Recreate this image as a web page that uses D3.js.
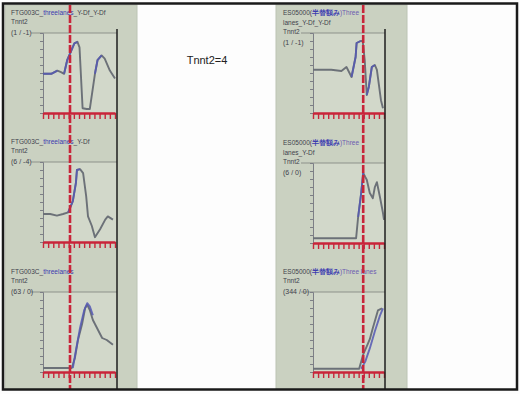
<!DOCTYPE html>
<html>
<head>
<meta charset="utf-8">
<script src="https://cdn.jsdelivr.net/npm/d3@7"></script>
<style>
  html, body { margin: 0; padding: 0; background: #ffffff; }
  svg { display: block; }
</style>
</head>
<body>
<script>
// ---- data: expression traces (time 0..14, relative level 0..100) ----
const timeTicks = d3.range(0, 15);
const levelTicks = d3.range(0, 101, 10);
const markerTime = [5.25, 9.9];          // stage marker for left / right column

// left column: FTG003C
const ftgTrace1 = [[0,49],[1.6,49],[2.8,53],[3.5,51],[4.1,49],[4.7,66],[5.5,78],[6.1,87],[6.7,89],[7.1,82],[7.7,6],[8.5,5],[9.1,5],[10.1,49],[10.6,66],[11.4,72],[12.0,68],[13.0,53],[14.0,43]];
const ftgBlue1 = [[[0,49],[1.6,49],[2.8,53]],[[4.1,49],[4.7,66],[5.5,78],[6.1,87],[6.7,89]],[[10.1,49],[10.6,66],[11.4,72]]];
const ftgTrace2 = [[0,35],[1.4,35],[2.7,33],[3.9,35],[4.9,37],[5.8,51],[6.4,74],[6.6,90],[7.2,91],[7.8,86],[8.4,57],[8.75,32],[9.5,20],[10.1,6],[11.1,16],[12.1,28],[12.6,32],[13.6,28]];
const ftgBlue2 = [[[4.9,37],[5.8,51],[6.4,74],[6.6,90],[7.2,91]]];
const ftgTrace3 = [[0,5],[5.6,5],[6.2,17.5],[6.8,40],[7.6,60],[8.2,80],[8.6,84],[9.1,77.5],[9.7,65],[10.7,52.5],[11.5,42.5],[12.4,40],[13.6,34]];
const ftgBlue3 = [[[5.8,5],[6.4,27],[7.2,55],[8.0,77],[8.6,86],[9.1,82],[9.7,71]]];

// right column: ES05000
const esTrace1 = [[0,54],[3.6,54],[5.6,52.5],[6.6,57.5],[7.4,47.5],[7.6,45],[8.4,70],[8.6,87.5],[9.4,90],[9.8,90],[10.2,66],[10.6,22.5],[11.0,32.5],[11.6,57.5],[12.2,60],[12.6,54],[13.4,16],[13.8,6]];
const esBlue1 = [[[7.6,45],[8.4,70],[8.6,87.5],[9.4,90]],[[10.6,22.5],[11.0,32.5],[11.6,57.5],[12.2,60]]];
const esTrace2 = [[0,6],[8.5,6],[8.9,32.5],[9.5,62.5],[9.9,87.5],[10.3,82.5],[10.6,79],[11.2,62.5],[11.8,56],[12.2,70],[12.6,76],[13.2,57.5],[13.8,37.5],[14.0,29]];
const esBlue2 = [[[8.9,32.5],[9.5,62.5],[9.9,87.5]]];
const esTrace3 = [[0,4],[9.1,4],[9.9,22],[10.6,32],[11.2,41],[11.8,55],[12.4,68],[12.8,77],[13.6,79.5]];
const esBlue3 = [[[9.5,4],[10.3,13],[11.2,29.5],[12.2,51],[13.2,70.5],[13.8,79.5]]];

// panel headings
const ftgHead = ["FTG003C_", "threelanes"];
const ftgTails = ["_Y-Df_Y-Df", "_Y-Df", ""];
const esHead = ["ES05000(", "半替額み", ")Three"];
const esLines2 = ["lanes_Y-Df_Y-Df", "lanes_Y-Df", null];
const geneName = "Tnnt2";
const countLabels = [["(1 / -1)", "(6 / -4)", "(63 / 0)"], ["(1 / -1)", "(6 / 0)", "(344 / 0)"]];
const chartTitle = "Tnnt2=4";

// ---- layout ----
const W = 520, H = 394;
const svg = d3.select("body").append("svg").attr("width", W).attr("height", H);
const FONT = "'Liberation Sans', Arial, sans-serif";
const GREEN = "#cad1c1", PLOT_BG = "#d2d8ca";
const RED = "#c8253a", GRAY_LINE = "#6c7178", BLUE = "#5558b4";
const TXT = "#3f414c", TXT_BLUE = "#3a3ab0";

svg.append("rect").attr("width", W).attr("height", H).attr("fill", "#fdfdfd");

const columns = [
  { x0: 5, x1: 137, plotL: 43, plotR: 115, frameX: 117, textX: 11,
    tops: [33, 162, 292], traces: [ftgTrace1, ftgTrace2, ftgTrace3], blues: [ftgBlue1, ftgBlue2, ftgBlue3] },
  { x0: 276, x1: 407, plotL: 313, plotR: 384, frameX: 385, textX: 283,
    tops: [33, 163, 292], traces: [esTrace1, esTrace2, esTrace3], blues: [esBlue1, esBlue2, esBlue3] }
];
const plotH = 80;

const line = (x, y) => d3.line().x(d => x(d[0])).y(d => y(d[1])).curve(d3.curveLinear);
const label = (sel, x, y, size, txt) => sel.append("text").attr("x", x).attr("y", y)
  .attr("font-family", FONT).attr("font-size", size).attr("fill", TXT).text(txt);

columns.forEach((col, ci) => {
  const g = svg.append("g");
  g.append("rect").attr("x", col.x0).attr("y", 5).attr("width", col.x1 - col.x0).attr("height", 384)
    .attr("fill", GREEN).attr("stroke", "#bcc4b4").attr("stroke-width", 1);

  const x = d3.scaleLinear().domain([0, 14]).range([col.plotL, col.plotR]);

  col.tops.forEach((top, pi) => {
    const bottom = top + plotH;
    const y = d3.scaleLinear().domain([0, 100]).range([bottom, top]);
    const p = g.append("g");

    p.append("rect").attr("x", col.plotL).attr("y", top).attr("width", col.frameX - col.plotL).attr("height", plotH)
      .attr("fill", PLOT_BG);
    p.append("line").attr("x1", col.plotL - 12).attr("x2", col.frameX).attr("y1", top).attr("y2", top)
      .attr("stroke", "#8d918a").attr("stroke-width", 1);

    // level axis
    const ya = d3.axisLeft(y).tickValues(levelTicks).tickSize(3).tickFormat("");
    p.append("g").attr("transform", `translate(${col.plotL},0)`).call(ya)
      .call(a => a.selectAll("line,path").attr("stroke", "#7d7f86"));

    // traces
    p.append("path").datum(col.traces[pi]).attr("d", line(x, y))
      .attr("fill", "none").attr("stroke", GRAY_LINE).attr("stroke-width", 1.9).attr("stroke-linejoin", "round");
    col.blues[pi].forEach(seg => {
      p.append("path").datum(seg).attr("d", line(x, y))
        .attr("fill", "none").attr("stroke", BLUE).attr("stroke-width", 1.9).attr("stroke-opacity", 0.85)
        .attr("stroke-linejoin", "round");
    });

    // time axis (red)
    const xa = d3.axisBottom(x).tickValues(timeTicks).tickSize(6).tickFormat("").tickSizeOuter(0);
    p.append("g").attr("transform", `translate(0,${bottom})`).call(xa)
      .call(a => a.select("path").attr("stroke", RED).attr("stroke-width", 2.4))
      .call(a => a.selectAll(".tick line").attr("stroke", RED).attr("stroke-width", 1.4));

    // headings
    const t = p.append("text").attr("font-family", FONT).attr("font-size", 6.5).attr("fill", TXT)
      .attr("x", col.textX).attr("y", top - 18);
    if (ci === 0) {
      t.append("tspan").text(ftgHead[0]);
      t.append("tspan").attr("fill", TXT_BLUE).text(ftgHead[1]);
      t.append("tspan").text(ftgTails[pi]);
      label(p, col.textX, top - 9, 6.5, geneName);
      label(p, col.textX, top + 2, 7, countLabels[ci][pi]);
    } else {
      const hasSecond = esLines2[pi] !== null;
      t.append("tspan").text(esHead[0]);
      t.append("tspan").attr("fill", TXT_BLUE).attr("font-weight", "bold").text(esHead[1]);
      t.append("tspan").attr("fill", "#6a5ab0").text(esHead[2] + (hasSecond ? "" : " lanes"));
      if (hasSecond) {
        label(p, col.textX, top - 8, 6.5, esLines2[pi]);
        label(p, col.textX, top + 1, 6.5, geneName);
        label(p, col.textX, top + 12, 7, countLabels[ci][pi]);
      } else {
        label(p, col.textX, top - 9, 6.5, geneName);
        label(p, col.textX, top + 2, 7, countLabels[ci][pi]);
      }
    }
  });

  // right frame line of the column
  g.append("line").attr("x1", col.frameX).attr("x2", col.frameX).attr("y1", 29).attr("y2", 389)
    .attr("stroke", "#1e1e1e").attr("stroke-width", 1.5);

  // stage marker
  g.append("line").attr("x1", x(markerTime[ci])).attr("x2", x(markerTime[ci]))
    .attr("y1", 5).attr("y2", 389)
    .attr("stroke", RED).attr("stroke-width", 2.6).attr("stroke-dasharray", "8,2");
});

// chart title
svg.append("text").attr("x", 207).attr("y", 64).attr("text-anchor", "middle")
  .attr("font-family", FONT).attr("font-size", 11).attr("fill", "#222").text(chartTitle);

// outer frame
svg.append("rect").attr("x", 3).attr("y", 3.5).attr("width", 514).attr("height", 386)
  .attr("fill", "none").attr("stroke", "#1a1a1a").attr("stroke-width", 2.5);
</script>
</body>
</html>
